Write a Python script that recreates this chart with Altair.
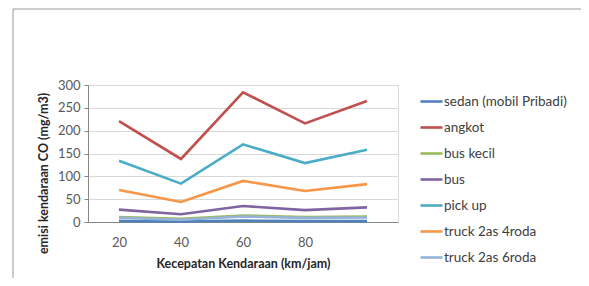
import altair as alt
import pandas as pd

speeds = [20, 40, 60, 80, 100]
series_names = ["sedan (mobil Pribadi)", "angkot", "bus kecil", "bus", "pick up",
                "truck 2as 4roda", "truck 2as 6roda"]
sedan = [2, 1, 3, 2, 2]
angkot = [221, 138, 284, 216, 265]
bus_kecil = [11, 7, 14, 11, 12]
bus = [27, 17, 35, 26, 32]
pick_up = [134, 84, 170, 129, 158]
truck_4roda = [70, 44, 90, 68, 83]
truck_6roda = [9, 5, 12, 9, 10]
colors = ["#4F81BD", "#C0504D", "#9BBB59", "#8064A2", "#4BACC6", "#F79646", "#95B3D7"]
x_ticks = [20, 40, 60, 80]
y_ticks = [0, 50, 100, 150, 200, 250, 300]

all_series = [sedan, angkot, bus_kecil, bus, pick_up, truck_4roda, truck_6roda]
rows = []
for name, vals in zip(series_names, all_series):
    for s, v in zip(speeds, vals):
        rows.append({"speed": s, "value": v, "series": name, "order": series_names.index(name)})
df = pd.DataFrame(rows)

FONT = "Lato"

lines = alt.Chart(df).mark_line(strokeWidth=2.6).encode(
    x=alt.X("speed:Q",
            scale=alt.Scale(domain=[10, 110], nice=False, zero=False),
            axis=alt.Axis(values=x_ticks, grid=False, ticks=False, domain=True,
                          domainColor="#868686",
                          labelFontSize=13, labelColor="#595959", labelPadding=14,
                          title="Kecepatan Kendaraan (km/jam)", titleFontSize=12.5,
                          titleFontWeight="bold", titleColor="#262626", titlePadding=8,
                          labelFont=FONT, titleFont=FONT)),
    y=alt.Y("value:Q",
            scale=alt.Scale(domain=[0, 300], nice=False),
            axis=alt.Axis(values=y_ticks, grid=True, gridColor="#D9D9D9",
                          tickSize=4, tickColor="#868686", domainColor="#868686",
                          labelFontSize=13, labelColor="#595959", labelPadding=4,
                          labelOverlap=False,
                          title="emisi kendaraan CO (mg/m3)", titleFontSize=12.5,
                          titleFontWeight="bold", titleColor="#262626",
                          titleX=-45, titleY=88, titleAlign="center", titleBaseline="middle",
                          labelFont=FONT, titleFont=FONT)),
    color=alt.Color("series:N", sort=series_names,
                    scale=alt.Scale(domain=series_names, range=colors),
                    legend=alt.Legend(title=None, orient="none", legendX=331, legendY=4,
                                      symbolType="stroke", symbolSize=484,
                                      symbolStrokeWidth=2.6, rowPadding=7,
                                      labelFontSize=13.5, labelColor="#404040",
                                      labelFont=FONT, labelOffset=0)),
    order=alt.Order("order:Q"),
    detail="series:N",
)

border_left = alt.Chart(alt.Data(values=[{"a": 1}])).mark_rule(color="#9A9A9A", strokeWidth=1).encode(
    x=alt.value(-75), y=alt.value(-76), y2=alt.value(300))
border_top = alt.Chart(alt.Data(values=[{"a": 1}])).mark_rule(color="#9A9A9A", strokeWidth=1).encode(
    x=alt.value(-75), x2=alt.value(600), y=alt.value(-76))

chart = alt.layer(lines, border_left, border_top).properties(
    width=310, height=137,
    autosize=alt.AutoSizeParams(type="none"),
    padding={"left": 80, "top": 77, "right": 183, "bottom": 56},
).configure_view(stroke=None).configure(background="white")

chart.save("out.html", embed_options={"renderer": "svg", "actions": False})
